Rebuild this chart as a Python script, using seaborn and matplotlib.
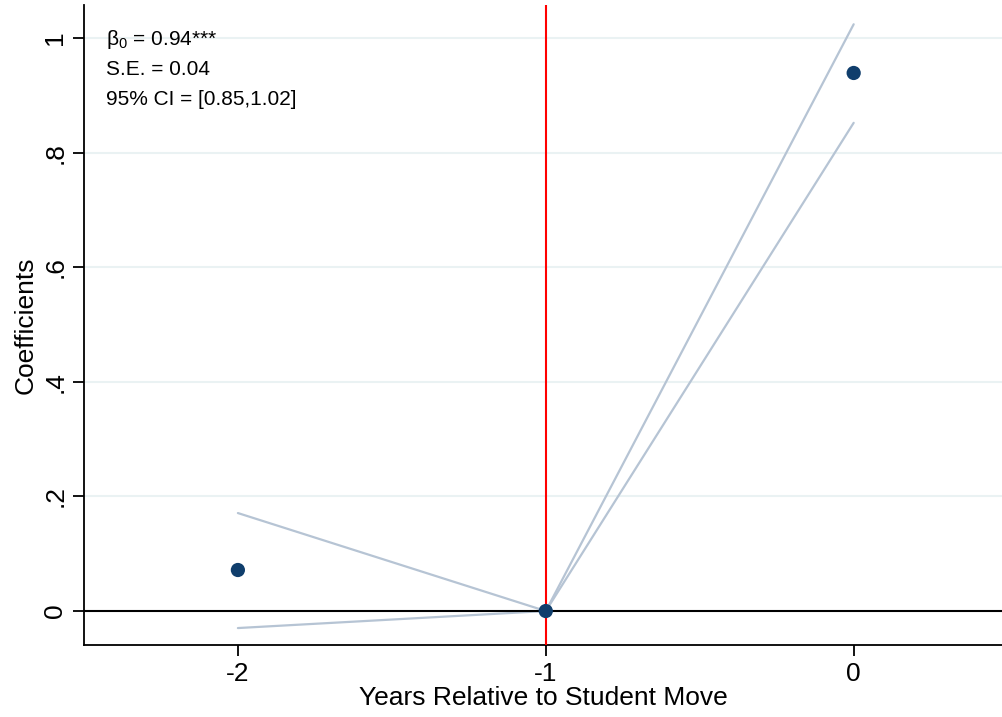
import matplotlib
matplotlib.use("Agg")
import matplotlib.pyplot as plt
import pandas as pd
import seaborn as sns

# event-study estimates
years = [-2, -1, 0]
coef = [0.0716, 0.0, 0.939]
ci_low = [-0.0297, 0.0, 0.852]
ci_high = [0.171, 0.0, 1.024]
yticks = [0, 0.2, 0.4, 0.6, 0.8, 1.0]
ytick_labels = ["0", ".2", ".4", ".6", ".8", "1"]
notes = ["β$_0$ = 0.94***", "S.E. = 0.04", "95% CI = [0.85,1.02]"]

sns.set_style("white")
plt.rcParams["font.family"] = ["Liberation Sans", "DejaVu Sans"]
plt.rcParams["mathtext.fontset"] = "custom"
plt.rcParams["mathtext.rm"] = "Liberation Sans"
plt.rcParams["text.color"] = "black"
plt.rcParams["axes.labelcolor"] = "black"
plt.rcParams["xtick.color"] = "black"
plt.rcParams["ytick.color"] = "black"

df = pd.DataFrame({"year": years, "coef": coef, "lo": ci_low, "hi": ci_high})

fig = plt.figure(figsize=(10.03, 7.17), dpi=100)
ax = fig.add_axes([0.0837, 0.1004, 0.9163, 0.8926])

for y in yticks[1:]:
    ax.axhline(y, color="#EAF2F3", lw=1.5, zorder=0)

ci_col = "#B6C4D4"
sns.lineplot(data=df, x="year", y="hi", color=ci_col, lw=1.6, ax=ax, zorder=2)
sns.lineplot(data=df, x="year", y="lo", color=ci_col, lw=1.6, ax=ax, zorder=2)

ax.axhline(0, color="black", lw=1.5, zorder=3)
ax.axvline(-1, color="#FF0000", lw=1.5, zorder=3)

sns.scatterplot(data=df, x="year", y="coef", color="#103E6C", s=105,
                edgecolor="none", ax=ax, zorder=4)

ax.set_xlim(-2.5, 0.485)
ax.set_ylim(-0.0593, 1.0576)
ax.set_xticks(years)
ax.set_xticklabels([str(v) for v in years])
ax.set_yticks(yticks)
ax.set_yticklabels(ytick_labels, rotation=90, va="center")
ax.tick_params(axis="both", direction="out", length=8, width=1.3,
               labelsize=19, bottom=True, left=True, pad=4)
ax.set_xlabel("Years Relative to Student Move", fontsize=19, labelpad=0)
ax.set_ylabel("Coefficients", fontsize=19, labelpad=4)

for side in ["top", "right"]:
    ax.spines[side].set_visible(False)
for side in ["left", "bottom"]:
    ax.spines[side].set_color("black")
    ax.spines[side].set_linewidth(1.3)

for i, t in enumerate(notes):
    ax.text(0.0235, 0.9465 - i * 0.047, t, transform=ax.transAxes,
            fontsize=15, ha="left", va="center")

fig.savefig("out.png", dpi=100)
